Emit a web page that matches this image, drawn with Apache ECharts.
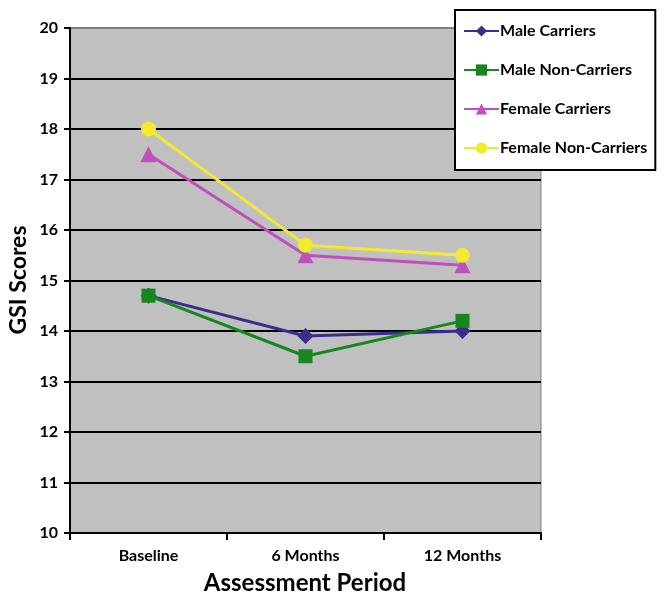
<!DOCTYPE html>
<html>
<head>
<meta charset="utf-8">
<script src="https://cdn.jsdelivr.net/npm/echarts@6/dist/echarts.min.js"></script>
<style>html,body{margin:0;padding:0;background:#fff}#c{width:664px;height:600px}</style>
</head>
<body>
<div id="c"></div>
<script>
var categories = ['Baseline', '6 Months', '12 Months'];
var maleCarriers = [14.7, 13.9, 14.0];
var maleNonCarriers = [14.7, 13.5, 14.2];
var femaleCarriers = [17.5, 15.5, 15.3];
var femaleNonCarriers = [18.0, 15.7, 15.5];
var seriesNames = ['Male Carriers', 'Male Non-Carriers', 'Female Carriers', 'Female Non-Carriers'];
var xTitle = 'Assessment Period';
var yTitle = 'GSI Scores';

var FONT = 'Lato';
var chart = echarts.init(document.getElementById('c'));
function mk(name, data, color, symbol, size) {
  return {
    name: name, type: 'line', data: data, symbol: symbol, symbolSize: size,
    lineStyle: {color: color, width: 3}, itemStyle: {color: color},
    emphasis: {disabled: true}, animation: false, z: 5
  };
}
var splitColors = [];
for (var i = 0; i < 10; i++) splitColors.push('#000');
splitColors.push('#808080');
chart.setOption({
  animation: false,
  backgroundColor: '#fff',
  grid: {left: 70, right: 123, top: 28, bottom: 67, outerBoundsMode: 'none', containLabel: false, show: true, backgroundColor: '#c0c0c0', borderColor: '#808080', borderWidth: 1},
  legend: {
    orient: 'vertical', left: 455, top: 10, width: 198,
    backgroundColor: '#fff', borderColor: '#000', borderWidth: 2,
    padding: [13, 8, 14, 8], itemGap: 23, itemWidth: 35, itemHeight: 14,
    textStyle: {fontFamily: FONT, fontWeight: 'bold', fontSize: 16, color: '#000', padding: [0, 0, 0, -4]},
    data: seriesNames
  },
  graphic: [
    {type: 'text', x: 305, y: 583, silent: true,
     style: {text: xTitle, fontFamily: FONT, fontWeight: 'bold', fontSize: 24, fill: '#000', align: 'center', verticalAlign: 'middle'}},
    {type: 'text', x: 19, y: 280, rotation: Math.PI / 2, silent: true,
     style: {text: yTitle, fontFamily: FONT, fontWeight: 'bold', fontSize: 23, fill: '#000', align: 'center', verticalAlign: 'middle'}}
  ],
  xAxis: {
    type: 'category', data: categories, boundaryGap: true,
    axisLine: {lineStyle: {color: '#000', width: 2}},
    axisTick: {show: true, length: 7, lineStyle: {color: '#000', width: 2}},
    axisLabel: {fontFamily: FONT, fontWeight: 'bold', fontSize: 16, color: '#000', margin: 15}
  },
  yAxis: {
    type: 'value', min: 10, max: 20, interval: 1,
    axisLine: {show: true, lineStyle: {color: '#000', width: 2}},
    axisTick: {show: true, length: 6, lineStyle: {color: '#000', width: 2}},
    axisLabel: {fontFamily: FONT, fontWeight: 'bold', fontSize: 16, color: '#000', margin: 12},
    splitLine: {show: true, lineStyle: {color: splitColors, width: 2}}
  },
  series: [
    mk(seriesNames[0], maleCarriers, '#3a2d8c', 'diamond', 16),
    mk(seriesNames[1], maleNonCarriers, '#17871d', 'rect', 14),
    mk(seriesNames[2], femaleCarriers, '#c04fbe', 'triangle', 16),
    mk(seriesNames[3], femaleNonCarriers, '#f2ea2c', 'circle', 15)
  ]
});
</script>
</body>
</html>
